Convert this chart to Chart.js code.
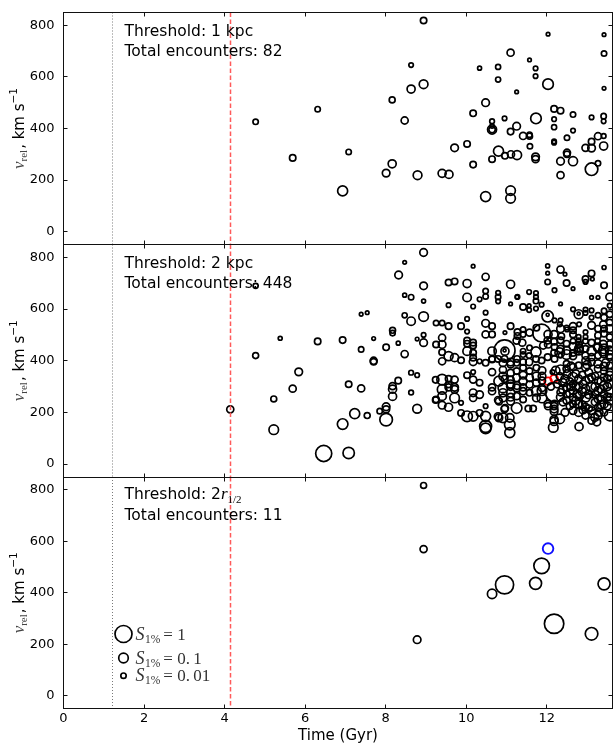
<!DOCTYPE html>
<html>
<head>
<meta charset="utf-8">
<script src="https://cdn.jsdelivr.net/npm/chart.js@4"></script>
<style>
  html, body { margin: 0; padding: 0; background: #fff; }
  #wrap { position: relative; width: 614px; height: 745px; overflow: hidden; background: #fff; }
  #wrap canvas { position: absolute; left: 0; }
</style>
</head>
<body>
<div id="wrap">
  <canvas id="p1" width="614" height="245" style="top:0px"></canvas>
  <canvas id="p2" width="614" height="233" style="top:244px"></canvas>
  <canvas id="p3" width="614" height="269" style="top:476px"></canvas>
</div>
<script>
// ---- axes ----
const timeRange = [0, 13.63];
const vrelRange = [-50, 850];
const timeTicks = [0, 2, 4, 6, 8, 10, 12];
const vrelTicks = [0, 200, 400, 600, 800];
// vertical reference times (Gyr): dotted grey, dashed red
const refLineTimes = [1.22, 4.14];

// ---- panel annotations ----
const thresholdLabels = ['1 kpc', '2 kpc', null];
const encounterTotals = [82, 448, 11];
const legendSignificance = [1, 0.1, 0.01];

// ---- encounters: [time (Gyr), v_rel (km/s), S_1%] ----
const encounters1kpc = [
  [4.77,426,0.01],[5.69,286,0.02],[6.31,475,0.01],[6.93,158,0.12],[7.08,309,0.01],
  [8.01,227,0.04],[8.16,263,0.05],[8.16,511,0.015],[8.47,431,0.03],[8.63,553,0.05],
  [8.63,646,0.005],[8.79,219,0.07],[8.94,572,0.07],[8.94,819,0.02],[9.40,226,0.05],
  [9.57,222,0.05],[9.71,325,0.04],[10.02,340,0.02],[10.17,260,0.02],[10.17,459,0.02],
  [10.33,634,0.003],[10.48,500,0.04],[10.48,136,0.12],[10.79,639,0.008],[10.79,590,0.008],
  [10.64,428,0.006],[10.64,396,0.08],[10.64,396,0.02],[10.64,281,0.02],[10.80,312,0.12],
  [10.96,294,0.02],[10.95,439,0.005],[11.10,694,0.03],[11.10,388,0.02],[11.11,300,0.03],
  [11.25,409,0.04],[11.26,297,0.08],[11.10,159,0.1],[11.10,129,0.1],[11.25,542,0.002],
  [11.41,371,0.03],[11.57,370,0.015],[11.58,331,0.01],[11.57,666,0.002],[11.72,633,0.005],
  [11.72,603,0.005],[11.73,439,0.15],[11.72,290,0.04],[11.72,281,0.03],[12.03,766,0.002],
  [12.03,572,0.15],[12.18,476,0.02],[12.34,469,0.02],[12.18,436,0.005],[12.18,405,0.008],
  [12.18,350,0.005],[12.18,345,0.005],[12.50,364,0.01],[12.50,306,0.03],[12.50,300,0.02],
  [12.34,273,0.04],[12.65,273,0.08],[12.34,219,0.03],[12.65,454,0.01],[12.65,392,0.005],
  [12.96,325,0.03],[13.11,349,0.02],[13.11,324,0.04],[13.11,443,0.005],[13.11,242,0.3],
  [13.27,370,0.03],[13.27,265,0.01],[13.41,371,0.006],[13.41,332,0.05],[13.41,448,0.01],
  [13.41,428,0.005],[13.42,691,0.01],[13.42,764,0.002],[13.42,556,0.002],[11.57,376,0.01],
  [10.64,410,0.004]
];
const flagged1kpc = [];

const encounters2kpc = [
  // early encounters
  [4.14,212,0.03],[4.77,690,0.008],[4.77,420,0.015],[5.22,252,0.015],[5.22,133,0.1],
  [5.38,487,0.003],[5.69,292,0.03],[5.84,357,0.04],[6.31,475,0.02],[6.46,41,0.8],
  [7.08,43,0.2],[6.93,155,0.15],[6.93,480,0.02],[7.08,309,0.02],[7.23,195,0.12],
  [7.39,293,0.03],[7.39,444,0.01],[7.39,580,0.002],[7.54,586,0.002],[7.54,188,0.015],
  [7.70,486,0.002],[7.70,400,0.03],[7.70,396,0.02],[7.85,205,0.01],[8.01,172,0.3],
  [8.01,222,0.04],[8.01,212,0.03],[8.01,452,0.02],[8.17,518,0.015],[8.17,507,0.01],
  [8.17,262,0.05],[8.17,290,0.05],[8.17,302,0.03],[8.31,323,0.02],[8.31,468,0.003],
  [8.32,732,0.04],[8.47,426,0.03],[8.47,576,0.008],[8.47,654,0.003],[8.47,781,0.002],
  [8.63,646,0.01],[8.63,553,0.06],[8.63,354,0.006],[8.63,277,0.006],[8.78,344,0.005],
  [8.78,484,0.002],[8.78,214,0.07],[8.94,571,0.1],[8.94,819,0.04],[8.94,690,0.04],
  [8.94,631,0.003],[8.94,500,0.005],[8.94,470,0.04],
  // 9 - 11 Gyr
  [9.25,546,0.01],[9.40,546,0.01],[9.56,534,0.02],[9.56,703,0.02],[9.71,707,0.02],
  [9.56,615,0.005],[9.40,489,0.03],[9.40,463,0.04],[9.25,463,0.02],[9.40,433,0.02],
  [9.40,398,0.03],[9.56,418,0.08],[9.71,412,0.05],[9.87,402,0.02],[9.87,534,0.02],
  [10.02,699,0.05],[10.02,645,0.06],[10.02,562,0.005],[10.02,513,0.005],[10.02,478,0.02],
  [10.02,466,0.02],[10.02,437,0.06],[10.17,470,0.02],[10.17,459,0.02],[10.17,431,0.02],
  [10.17,412,0.02],[10.17,396,0.04],[10.17,610,0.005],[10.17,766,0.002],[10.33,638,0.005],
  [10.48,725,0.03],[10.48,670,0.01],[10.48,649,0.01],[10.48,586,0.005],[10.48,545,0.04],
  [10.64,534,0.02],[10.64,502,0.02],[10.48,502,0.03],[10.64,437,0.06],[10.64,405,0.02],
  [10.48,392,0.02],[10.33,398,0.005],[9.40,327,0.15],[9.40,289,0.1],[9.40,263,0.06],
  [9.25,250,0.02],[9.40,228,0.04],[9.56,220,0.05],[9.56,308,0.02],[9.71,327,0.03],
  [9.71,289,0.04],[9.71,256,0.1],[9.87,237,0.005],[9.87,198,0.02],[10.02,185,0.15],
  [10.17,185,0.1],[10.02,344,0.02],[10.17,327,0.03],[10.17,356,0.005],[10.17,276,0.04],
  [10.17,256,0.03],[10.33,315,0.02],[10.33,269,0.04],[10.33,198,0.02],[10.48,224,0.005],
  [10.48,185,0.12],[10.48,146,0.25],[10.48,138,0.15],[10.64,282,0.03],[10.81,321,0.12],
  [10.81,243,0.03],[10.81,179,0.04],[9.24,326,0.02],[9.24,248,0.02],[9.56,297,0.03],
  [9.56,330,0.02],[9.71,297,0.04],
  // late, high velocity
  [10.79,663,0.005],[10.79,647,0.01],[10.79,630,0.005],[11.10,696,0.05],[11.26,647,0.002],
  [11.56,666,0.005],[11.73,662,0.005],[11.73,647,0.005],[11.73,631,0.01],[11.41,608,0.02],
  [11.56,613,0.002],[11.87,617,0.005],[11.73,602,0.005],[11.56,596,0.005],[11.10,620,0.002],
  [11.27,647,0.005],[12.02,767,0.003],[12.02,739,0.002],[12.02,705,0.01],[12.34,753,0.03],
  [12.19,673,0.005],[12.49,701,0.02],[12.65,679,0.002],[12.96,705,0.005],[13.11,738,0.02],
  [13.42,761,0.003],[13.42,692,0.02],[13.56,647,0.04],[13.13,716,0.002],[12.96,716,0.02],
  [12.45,735,0.002],[12.34,620,0.002],[13.11,645,0.002],[13.27,645,0.002],[12.02,572,0.2],
  [12.02,578,0.001],[12.79,580,0.08],[12.79,582,0.001],[12.96,598,0.005],[12.96,585,0.005],
  [13.11,595,0.005],[13.11,567,0.005],[13.27,576,0.01],[13.42,593,0.01],[13.42,567,0.02],
  [13.56,613,0.005],[13.56,580,0.02],[12.19,556,0.005],[12.34,556,0.005],[12.65,599,0.005],
  // late, intermediate velocity
  [10.96,509,0.002],[11.10,534,0.02],[11.27,511,0.02],[11.27,496,0.02],[11.41,521,0.01],
  [11.41,502,0.01],[11.57,509,0.03],[11.74,528,0.02],[11.87,507,1.2],[12.03,502,0.05],
  [12.18,502,0.04],[12.18,474,0.02],[12.03,463,0.03],[12.18,431,0.02],[10.96,437,0.05],
  [11.25,478,0.03],[11.39,470,0.03],[11.41,437,0.01],[11.41,424,0.01],[11.57,450,0.01],
  [11.73,434,0.12],[10.95,440,2.3],[10.95,440,0.001],[12.34,524,0.04],[12.49,528,0.005],
  [12.65,518,0.02],[12.79,492,0.005],[12.79,479,0.005],[12.96,511,0.005],[12.96,492,0.005],
  [13.11,537,0.04],[13.27,524,0.02],[13.27,498,0.02],[13.42,524,0.02],[13.42,505,0.02],
  [13.56,524,0.04],[13.56,492,0.02],[12.32,541,0.005],[12.50,521,0.005],[12.65,534,0.03],
  [12.80,541,0.005],[13.40,541,0.03],[13.56,548,0.02],[12.36,495,0.02],[12.65,502,0.02],
  [12.65,476,0.01],[12.80,450,0.05],[12.80,463,0.02],[12.96,476,0.01],[13.11,470,0.02],
  [13.11,437,0.08],[13.26,476,0.01],[13.26,450,0.05],[13.40,463,0.05],[13.40,437,0.1],
  [13.56,463,0.03],[13.56,424,0.06],[12.32,431,0.1],[12.49,424,0.1],[12.65,418,0.03],
  [12.02,479,0.03],[12.19,453,0.02],[12.34,479,0.02],[12.34,446,0.03],[12.34,420,0.005],
  [12.49,466,0.02],[12.49,440,0.05],[12.65,455,0.04],[12.65,430,0.02],[12.79,440,0.08],
  [12.79,442,0.001],[12.96,446,0.02],[12.96,420,0.03],[13.11,414,0.03],[13.27,453,0.05],
  [13.27,420,0.02],[13.42,446,0.1],[13.42,427,0.05],[13.56,440,0.06],[13.56,414,0.02],
  [10.64,407,0.02],[10.79,407,0.02],[10.95,407,0.02],[11.10,395,0.04],[11.26,407,0.02],
  [11.41,395,0.02],[11.56,420,0.01],[11.56,395,0.03],[11.73,407,0.02],[11.87,401,0.02],
  [12.02,414,0.02],[12.19,407,0.02],[12.34,365,0.1],[12.49,388,0.02],[12.49,369,0.03],
  [12.65,375,0.03],[12.79,382,0.02],[12.96,375,0.04],[13.11,395,0.03],[13.27,388,0.05],
  [13.42,378,0.05],[13.56,382,0.02],[13.27,369,0.03],[13.42,360,0.03],[13.56,356,0.03],
  [12.97,400,0.05],[13.46,392,0.04],[11.91,459,0.03],[12.80,446,0.06],
  // late, low velocity
  [10.64,356,0.03],[10.64,297,0.03],[10.79,248,0.03],[10.79,184,0.04],[10.91,392,0.04],
  [10.91,365,0.03],[10.91,340,0.05],[10.95,330,0.03],[10.91,295,0.1],[10.91,276,0.05],
  [10.91,256,0.04],[11.10,386,0.03],[11.10,353,0.03],[11.10,327,0.03],[11.10,310,0.05],
  [11.10,301,0.05],[11.10,276,0.06],[11.10,259,0.04],[11.10,243,0.04],[11.25,392,0.02],
  [11.25,360,0.02],[11.25,334,0.04],[11.26,304,0.04],[11.25,295,0.04],[11.25,263,0.03],
  [11.41,373,0.02],[11.41,344,0.04],[11.41,321,0.05],[11.41,297,0.03],[11.41,282,0.03],
  [11.41,250,0.02],[11.57,360,0.02],[11.57,334,0.04],[11.57,308,0.03],[11.57,276,0.02],
  [11.74,373,0.02],[11.74,340,0.05],[11.74,315,0.03],[11.74,282,0.1],[11.74,256,0.04],
  [11.88,340,0.04],[11.88,362,0.04],[11.88,295,0.03],[11.88,323,0.03],[11.88,256,0.1],
  [11.88,284,0.1],[12.14,356,0.005],[12.22,362,0.06],[12.20,278,1.6],[10.96,217,0.03],
  [10.95,213,0.03],[11.25,217,0.15],[10.91,179,0.1],[11.08,179,0.06],[11.08,153,0.15],
  [11.08,122,0.12],[11.54,215,0.02],[11.66,215,0.02],[12.03,224,0.03],[12.18,224,0.03],
  [12.18,213,0.04],[12.18,204,0.04],[12.18,172,0.05],[12.16,142,0.1],[12.18,165,0.05],
  [12.32,175,0.1],[12.02,233,0.03],[12.19,233,0.03],[12.34,278,0.03],[12.34,259,0.05],
  [12.49,297,0.04],[12.49,271,0.03],[12.49,246,0.03],[12.65,336,0.1],[12.65,310,0.03],
  [12.65,284,0.04],[12.65,259,0.03],[12.65,233,0.02],[12.65,207,0.04],[12.79,330,0.04],
  [12.79,297,0.05],[12.79,265,0.03],[12.79,233,0.04],[12.79,200,0.05],[12.96,323,0.05],
  [12.96,291,0.06],[12.96,259,0.1],[12.96,220,0.04],[12.96,188,0.03],[13.11,336,0.04],
  [13.11,297,0.1],[13.07,239,1.0],[13.11,207,0.04],[13.11,168,0.03],[13.27,323,0.03],
  [13.27,284,0.05],[13.27,252,0.04],[13.27,220,0.03],[13.27,188,0.05],[13.42,336,0.04],
  [13.42,304,0.06],[13.42,271,0.03],[13.42,233,0.05],[13.42,200,0.03],[13.56,343,0.05],
  [13.56,310,0.04],[13.56,278,0.1],[13.56,246,0.06],[13.56,259,0.03],[13.56,188,0.15],
  [12.80,145,0.05],[13.24,163,0.04],[13.19,181,0.05],[12.32,340,0.03],[12.50,350,0.04],
  [12.40,315,0.05],[12.57,320,0.03],[12.72,350,0.04],[12.88,345,0.03],[13.04,355,0.04],
  [13.20,340,0.03],[13.35,320,0.05],[13.50,330,0.04],[12.40,290,0.06],[12.57,275,0.05],
  [12.72,300,0.04],[12.88,280,0.05],[13.04,270,0.06],[13.20,300,0.05],[13.35,290,0.04],
  [13.50,300,0.05],[12.40,240,0.04],[12.57,225,0.03],[12.72,245,0.05],[12.88,230,0.04],
  [13.04,215,0.03],[13.20,240,0.04],[13.35,250,0.05],[13.50,225,0.04],[12.10,300,0.03],
  [12.26,310,0.04],[12.45,330,0.05],[12.60,300,0.04],[12.75,270,0.05],[12.90,310,0.04],
  [13.05,330,0.05],[13.20,270,0.04],[13.35,230,0.05],[13.50,260,0.04],[12.45,200,0.04],
  [12.90,210,0.05],[13.30,200,0.04],[12.60,380,0.04],[13.00,385,0.05]
];
const flagged2kpc = [[12.03,321,0.04],[12.18,331,0.04]];

const encounters2rh = [
  [8.94,817,0.015],[8.94,570,0.03],[8.78,218,0.04],[10.64,396,0.09],[10.95,431,1.3],
  [11.72,437,0.25],[11.87,505,0.7],[12.18,280,1.7],[13.11,241,0.3],[13.42,435,0.25]
];
const flagged2rh = [[12.03,572,0.15]];

// ---- styling ----
const SANS = '"DejaVu Sans", sans-serif';
const SERIF = '"Liberation Serif", "DejaVu Serif", serif';
Chart.defaults.font.family = SANS;
Chart.defaults.color = '#000';

// marker radius (px) grows as the fourth root of the significance
const markerRadius = s => 8.5 * Math.pow(s, 0.25);
const toBubbles = list => list.map(([t, v, s]) => ({ x: t, y: v, r: markerRadius(s) }));

function drawRuns(ctx, runs, x, y) {
  let cx = x;
  for (const r of runs) {
    ctx.font = r.font;
    ctx.fillStyle = r.color || '#000';
    ctx.fillText(r.text, cx, y + (r.dy || 0));
    cx += ctx.measureText(r.text).width + (r.gap || 0);
  }
  return cx - x;
}
function runsWidth(ctx, runs) {
  let w = 0;
  for (const r of runs) { ctx.font = r.font; w += ctx.measureText(r.text).width + (r.gap || 0); }
  return w;
}
const crisp = v => Math.round(v - 0.5) + 0.5;

function decorations(panel) {
  return {
    id: 'panelDecor',
    afterDatasetsDraw(chart) {
      const { ctx, chartArea: a, scales: { x, y } } = chart;
      ctx.save();
      // vertical reference lines
      const lineStyles = [
        { color: '#7a7a7a', width: 1, dash: [1, 2] },
        { color: '#ff5a5a', width: 1.5, dash: [4.5, 2.5] }
      ];
      refLineTimes.forEach((t, i) => {
        const st = lineStyles[i];
        const px = crisp(x.getPixelForValue(t));
        ctx.strokeStyle = st.color; ctx.lineWidth = st.width; ctx.setLineDash(st.dash);
        ctx.beginPath(); ctx.moveTo(px, a.top); ctx.lineTo(px, a.bottom); ctx.stroke();
      });
      ctx.setLineDash([]);

      // frame and inward ticks
      const L = crisp(a.left), R = crisp(a.right), T = crisp(a.top), B = crisp(a.bottom);
      ctx.strokeStyle = '#111'; ctx.lineWidth = 1;
      ctx.strokeRect(L, T, R - L, B - T);
      ctx.beginPath();
      timeTicks.forEach(t => {
        const px = crisp(x.getPixelForValue(t));
        ctx.moveTo(px, T); ctx.lineTo(px, T + 4);
        ctx.moveTo(px, B); ctx.lineTo(px, B - 4);
      });
      vrelTicks.forEach(v => {
        const py = crisp(y.getPixelForValue(v));
        ctx.moveTo(L, py); ctx.lineTo(L + 4, py);
        ctx.moveTo(R, py); ctx.lineTo(R - 4, py);
      });
      ctx.stroke();

      // threshold / total annotation
      ctx.textBaseline = 'alphabetic';
      ctx.textAlign = 'left';
      const tx = a.left + 61;
      const body = '15.5px ' + SANS;
      if (thresholdLabels[panel]) {
        drawRuns(ctx, [{ text: 'Threshold: ' + thresholdLabels[panel], font: body }], tx, a.top + 23);
      } else {
        drawRuns(ctx, [
          { text: 'Threshold: 2', font: body },
          { text: 'r', font: 'italic 17px ' + SERIF },
          { text: '1/2', font: '11px ' + SERIF, dy: 4 }
        ], tx, a.top + 22);
      }
      drawRuns(ctx, [{ text: 'Total encounters: ' + encounterTotals[panel], font: body }], tx, a.top + 43);

      // marker-size key
      if (panel === 2) {
        const keyY = [157, 181, 198.7];
        const cx = a.left + 60;
        legendSignificance.forEach((s, i) => {
          const cy = a.top + keyY[i];
          ctx.strokeStyle = '#000'; ctx.lineWidth = 1.7;
          ctx.beginPath(); ctx.arc(cx, cy, markerRadius(s), 0, Math.PI * 2); ctx.stroke();
          drawRuns(ctx, [
            { text: 'S', font: 'italic 18px ' + SERIF, color: '#333', gap: 0.5 },
            { text: '1%', font: '11.5px ' + SERIF, dy: 3, color: '#333', gap: 3 },
            { text: '= ' + String(s).replace('.', '.\u2009'), font: '17px ' + SERIF, color: '#333' }
          ], a.left + 72, cy + 5.5);
        });
      }

      // rotated y-axis title
      const runs = [
        { text: 'v', font: 'italic 17px ' + SERIF, color: '#444' },
        { text: 'rel', font: '11px ' + SERIF, dy: 3, color: '#444', gap: 1 },
        { text: ', km s', font: '15px ' + SANS },
        { text: '\u22121', font: '10.5px ' + SANS, dy: -6.5 }
      ];
      ctx.translate(23.5, (a.top + a.bottom) / 2);
      ctx.rotate(-Math.PI / 2);
      const w = runsWidth(ctx, runs);
      drawRuns(ctx, runs, -w / 2, 0);
      ctx.restore();
    }
  };
}

function panelChart(id, panel, list, flagged, flagColor, pad, showTime) {
  const resetPad = s => { s.paddingTop = 0; s.paddingBottom = 0; s.paddingLeft = 0; s.paddingRight = 0; };
  return new Chart(document.getElementById(id), {
    type: 'bubble',
    data: {
      datasets: [
        { data: toBubbles(list), borderColor: '#000', backgroundColor: 'rgba(0,0,0,0)', borderWidth: 1.7, clip: 0 },
        { data: toBubbles(flagged), borderColor: flagColor, backgroundColor: 'rgba(0,0,0,0)', borderWidth: 1.9, clip: 0 }
      ]
    },
    options: {
      responsive: false,
      animation: false,
      devicePixelRatio: 1,
      events: [],
      layout: { autoPadding: false, padding: { left: 0, right: 1.5, top: pad[0], bottom: pad[1] } },
      plugins: { legend: { display: false }, tooltip: { enabled: false } },
      scales: {
        x: {
          type: 'linear', min: timeRange[0], max: timeRange[1],
          display: showTime,
          afterBuildTicks: s => { s.ticks = timeTicks.map(v => ({ value: v })); },
          afterFit: s => { resetPad(s); if (showTime) s.height = 36.3; },
          grid: { display: false, drawTicks: false },
          border: { display: false },
          ticks: { padding: 2, maxRotation: 0, autoSkip: false, font: { size: 13, family: SANS }, color: '#000' },
          title: { display: true, text: 'Time (Gyr)', font: { size: 15, family: SANS }, color: '#000', padding: { top: 0, bottom: 0 } }
        },
        y: {
          type: 'linear', min: vrelRange[0], max: vrelRange[1],
          afterBuildTicks: s => { s.ticks = vrelTicks.map(v => ({ value: v })); },
          afterFit: s => { resetPad(s); s.width = 63.5; },
          grid: { display: false, drawTicks: false },
          border: { display: false },
          ticks: { padding: 9, font: { size: 13, family: SANS }, color: '#000' }
        }
      }
    },
    plugins: [decorations(panel)]
  });
}

panelChart('p1', 0, encounters1kpc, flagged1kpc, '#ff0000', [12.5, 0.5], false);
panelChart('p2', 1, encounters2kpc, flagged2kpc, '#ff0000', [0.5, 0], false);
panelChart('p3', 2, encounters2rh, flagged2rh, '#1010ff', [1, 0], true);
</script>
</body>
</html>
